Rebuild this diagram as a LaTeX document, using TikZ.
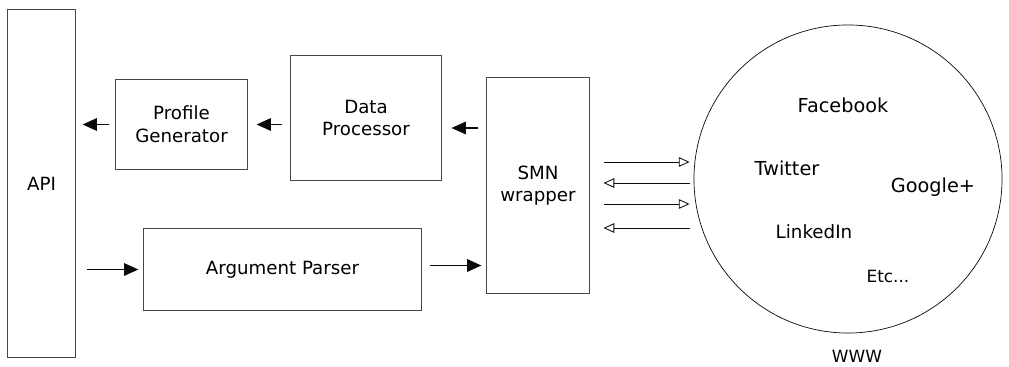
\documentclass[tikz,border=0pt]{standalone}
\usepackage{fontspec}
\setmainfont{DejaVu Sans}
\usepackage{tikz}
\usetikzlibrary{arrows.meta, positioning, calc}
\definecolor{boxLine}{RGB}{70,70,70}
\definecolor{darkText}{RGB}{10,10,10}
\tikzset{
    comp/.style={rectangle, draw=boxLine, line width=0.7pt, align=center, inner sep=0pt},
    cloud/.style={circle, draw=darkText, line width=0.5pt, minimum size=7.7cm, inner sep=0pt},
    flow/.style={-{Triangle[length=3.6mm, width=3.1mm]}, line width=1.4pt, darkText},
    oflow/.style={-{Triangle[open, length=2.7mm, width=2.4mm]}, line width=0.6pt, darkText},
    site/.style={anchor=base, inner sep=0pt, font=\fontsize{13.7}{16}\selectfont}
}

\begin{document}
\begin{tikzpicture}[x=0.025cm, y=-0.025cm, font=\fontsize{12.95}{16.1}\selectfont]
    \useasboundingbox (0,0) rectangle (1009,367);
    % blocks
    \node[comp, minimum width=1.675cm, minimum height=8.675cm] (api) at (41.5,183.5) {API};
    \node[comp, minimum width=3.275cm, minimum height=2.225cm] (pg) at (181.5,124.5) {Profile\\Generator};
    \node[comp, minimum width=3.75cm, minimum height=3.1cm] (dp) at (366,118) {Data\\Processor};
    \node[comp, minimum width=2.55cm, minimum height=5.375cm] (smn) at (538,185.5) {SMN\\wrapper};
    \node[comp, minimum width=6.925cm, minimum height=2.025cm] (ap) at (282.5,269.5) {Argument Parser};
    % the web
    \node[cloud] (web) at (848,179) {};
    \node[site] (fb) at (843,113) {Facebook};
    \node[site] (tw) at (787,176) {Twitter};
    \node[site] (gp) at (933,193) {Google+};
    \node[site, font=\fontsize{13}{16}\selectfont] (li) at (814,239) {LinkedIn};
    \node[site, font=\fontsize{12}{14}\selectfont] (etc) at (888,283) {Etc...};
    \node[site, font=\fontsize{12}{14}\selectfont] (www) at (857,363) {WWW};
    % connectors
    \coordinate (dpIn) at ($(dp.east)+(0,10)$);
    \coordinate (apOut) at ($(ap.east)+(0,-4)$);
    \draw[flow, shorten <=1.5mm, shorten >=1.75mm] (pg.west) -- (api.east |- pg.west);
    \draw[flow, shorten <=2mm, shorten >=2.25mm] (dp.west |- pg.east) -- (pg.east);
    \draw[flow, shorten <=2mm, shorten >=2.5mm] (smn.west |- dpIn) -- (dpIn);
    \draw[flow, shorten <=2.75mm, shorten >=1.25mm] (api.east |- ap.west) -- (ap.west);
    \draw[flow, shorten <=2mm, shorten >=1.25mm] (apOut) -- (smn.west |- apOut);
    \foreach \yy in {162,204}
        \draw[oflow, shorten <=3.5mm, shorten >=1mm] (smn.east |- 0,\yy) -- (web.west |- 0,\yy);
    \foreach \yy in {183,228}
        \draw[oflow, shorten <=1mm, shorten >=3.5mm] (web.west |- 0,\yy) -- (smn.east |- 0,\yy);
\end{tikzpicture}
\end{document}
